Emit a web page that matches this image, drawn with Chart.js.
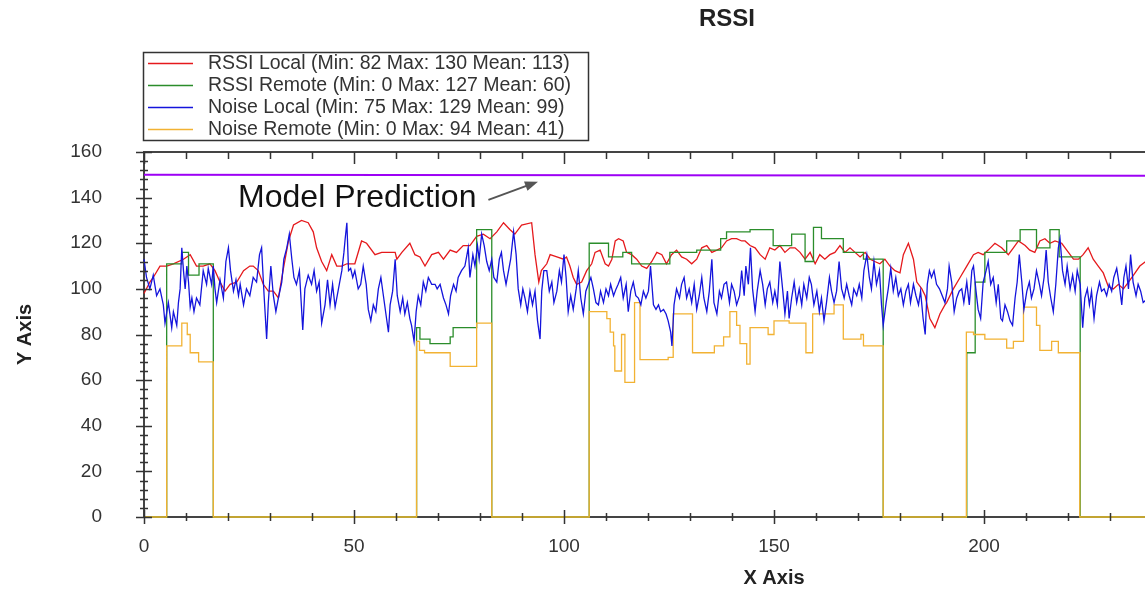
<!DOCTYPE html>
<html><head><meta charset="utf-8">
<script src="https://cdn.jsdelivr.net/npm/chart.js@4.4.1/dist/chart.umd.min.js"></script>
<style>
html,body{margin:0;padding:0;overflow:hidden;background:#fff;width:1145px;height:593px}
#wrap{position:absolute;left:0;top:0;width:1450px;height:593px}
</style>
</head><body><div id="wrap"><canvas id="c" width="1450" height="593"></canvas></div>
<script>
const chartTitle = 'RSSI';
const xTicks = [0, 50, 100, 150, 200, 250, 300];
const yTicks = [0, 20, 40, 60, 80, 100, 120, 140, 160];
const seriesLabels = [
  'RSSI Local (Min: 82 Max: 130 Mean: 113)',
  'RSSI Remote (Min: 0 Max: 127 Mean: 60)',
  'Noise Local (Min: 75 Max: 129 Mean: 99)',
  'Noise Remote (Min: 0 Max: 94 Mean: 41)'
];
const rssiLocal = [[0,98],[1.4,103],[2.2,105],[3.8,110],[5.4,110],[7,111],[9.4,113],[11,115],[12.5,110],[14.1,110],[15.7,111],[16.9,108],[18.1,103],[19.3,99],[20.5,102],[22.1,103],[23.7,108],[25.2,110],[26,110],[27.2,108],[28.4,102],[29.6,99],[30.8,99],[32,96],[33.2,109],[34.4,121],[35.6,128],[37.5,130],[39.1,129],[40.3,125],[41.1,118],[42.3,112],[43.5,108],[44.7,115],[45.9,110],[47.1,110],[48.3,111],[50.2,111],[51.8,121],[53,120],[55,115],[56.6,116],[59.8,116],[60.2,113],[61.4,116],[63.3,120],[64.5,115],[65.7,114],[66.9,110],[68.5,115],[70.1,116],[71.3,113],[72.9,117],[74.4,116],[76,119],[77.6,119],[79.2,123],[80.8,124],[82.4,122],[84,125],[85.6,129],[87.1,126],[88.3,124],[89.9,128],[92.3,129],[93.1,115],[94,103],[94.6,108],[95.9,111],[96.7,115],[98.3,114],[99.9,113],[100.6,114],[101.4,110],[102.2,105],[103,102],[104.2,103],[105.4,108],[106.6,111],[107.4,116],[108.6,117],[109.8,111],[110.6,110],[111.4,113],[112.2,121],[113,122],[114.1,121],[114.9,116],[116.1,115],[117.3,113],[118.5,110],[119.7,109],[120.9,112],[122.1,116],[123.3,115],[124.4,111],[125.6,115],[126.8,117],[128,114],[129.2,113],[130.4,111],[131.6,113],[132.8,118],[134,119],[135.2,116],[136.4,117],[137.5,118],[138.7,121],[139.9,122],[141.1,122],[142.3,121],[143.1,121],[144.3,119],[145.5,118],[146.7,115],[147.9,113],[149,118],[150.2,117],[151.4,119],[152.6,116],[153.8,118],[155,118],[156.2,116],[157.4,113],[158.6,116],[159.8,111],[160.9,115],[162.1,113],[163.3,115],[164.5,116],[165.7,119],[166.9,116],[168.1,118],[169.3,116],[170.5,114],[171.7,116],[172.9,113],[174,112],[175.2,111],[176.4,113],[177.6,110],[178.8,108],[180,107],[180.8,115],[182,120],[183.2,113],[184,103],[185.2,100],[186,97],[187.1,87],[188.3,83],[189.5,89],[190.7,93],[191.1,94],[192.7,100],[194.3,105],[195.9,110],[197.5,115],[198.6,116],[199.8,115],[201,117],[202.6,120],[204.2,118],[205.8,115],[207,118],[208.2,121],[209.8,119],[210.9,117],[212.1,116],[213.3,121],[214.5,122],[215.7,120],[216.9,121],[218.5,120],[219.7,117],[221.3,113],[222.5,113],[223.6,115],[224.8,118],[226,113],[227.2,110],[228.4,107],[229.6,101],[230.8,100],[232,102],[233.2,100],[234.4,103],[235.6,106],[237.1,110],[238.5,112]];
const rssiRemote = [[0,0],[5.4,111],[9,116],[10.6,106],[13.1,111],[16.5,0],[64.9,83],[65.7,78],[68.1,76],[72.9,79],[73.6,83],[79.2,126],[82.8,0],[106,120],[110.6,114],[114,116],[116.1,111],[125.2,116],[131.6,117],[137.3,122],[138.7,125],[141.9,125],[144.3,126],[149.8,119],[154.2,124],[157.4,112],[159.4,127],[161.3,122],[166.5,116],[171.3,113],[176,0],[195.9,72],[197.9,103],[200.2,116],[205.4,121],[208.6,126],[212.5,118],[215.7,126],[217.9,114],[222.9,0],[238.5,0]];
const noiseLocal = [[0,113],[0.6,105],[1.4,100],[2.2,106],[3,97],[3.8,100],[4.6,93],[5,85],[5.8,94],[6.6,83],[7,90],[7.8,84],[8.2,94],[8.6,100],[9,118],[9.4,108],[9.8,100],[10.2,110],[10.6,103],[11,92],[11.4,96],[11.9,90],[12.5,96],[13.3,93],[14.1,108],[14.9,102],[15.3,109],[16.1,102],[16.5,110],[16.9,100],[17.3,94],[18.1,104],[18.9,96],[19.5,112],[20.1,118],[20.6,108],[21.3,99],[21.9,104],[22.5,97],[22.9,102],[23.7,93],[24.4,100],[25.2,97],[26,105],[26.8,103],[27.5,115],[28,118],[28.6,97],[29.2,78],[29.6,94],[30.2,110],[30.8,97],[31.4,90],[32,96],[32.8,103],[33.3,113],[34,118],[34.6,124],[35.2,113],[35.7,105],[36.3,102],[37,108],[37.8,82],[38.3,100],[39.1,106],[39.9,102],[40.5,108],[41.1,99],[41.7,103],[42.3,85],[43.1,93],[43.7,104],[44.3,93],[44.9,102],[45.5,92],[46.3,100],[47.1,108],[47.6,116],[47.9,122],[48.3,129],[48.7,108],[49.2,109],[49.7,105],[50.2,108],[51,100],[51.6,102],[52.2,110],[52.9,102],[53.4,91],[54,86],[54.6,93],[55.2,90],[55.8,100],[56.4,105],[57,97],[57.6,89],[58.2,81],[58.6,93],[59.2,99],[59.8,113],[60.3,97],[61,90],[61.6,96],[62.1,89],[62.7,94],[63.3,87],[63.7,84],[64.3,77],[64.8,90],[65.3,97],[65.9,93],[66.5,103],[67.1,99],[67.7,105],[68.5,102],[69.3,102],[69.8,100],[70.5,102],[71.3,96],[71.9,93],[72.5,89],[73,97],[73.7,102],[74.3,99],[74.8,105],[75.6,108],[76.4,110],[77.2,118],[77.6,105],[78.3,115],[78.8,110],[79.4,119],[79.8,113],[80.4,124],[81,119],[81.6,112],[82.2,108],[82.8,113],[83.3,105],[84,103],[84.6,113],[85.1,116],[85.6,108],[86.2,102],[86.8,108],[87.3,113],[88,125],[88.6,115],[89.1,100],[89.7,93],[90.2,100],[90.7,96],[91.3,90],[91.9,99],[92.5,93],[93.1,99],[93.7,86],[94.3,78],[94.7,99],[95.2,108],[95.9,108],[96.5,99],[97.1,103],[97.6,94],[98.3,99],[98.9,108],[99.4,103],[100,115],[100.5,105],[101,90],[101.6,97],[102.2,91],[102.9,100],[103.4,108],[104,96],[104.6,89],[105.2,99],[105.8,102],[106.4,105],[107,100],[107.6,94],[108.2,93],[108.7,99],[109.4,94],[110,100],[110.6,97],[111.1,102],[111.8,97],[112.4,100],[112.9,102],[113.5,105],[114.1,96],[114.8,102],[115.3,90],[115.9,99],[116.5,103],[117.1,97],[117.7,96],[118.3,93],[118.9,99],[119.5,96],[120.1,99],[120.6,110],[121.3,93],[121.9,91],[122.5,93],[123,90],[123.7,91],[124.3,89],[124.8,86],[125.4,81],[125.7,75],[126.2,93],[126.8,100],[127.5,96],[128,102],[128.6,105],[129.2,96],[129.8,100],[130.4,94],[131,102],[131.6,91],[132.2,97],[132.8,105],[133.3,96],[134,90],[134.6,99],[135.2,113],[135.7,94],[136.4,89],[137,99],[137.5,96],[138.1,102],[138.7,103],[139.4,94],[139.9,102],[140.5,99],[141.1,93],[141.8,97],[142.3,108],[142.9,97],[143.3,110],[143.9,102],[144.4,118],[144.9,100],[145.5,90],[146,99],[146.7,108],[147.3,102],[147.9,93],[148.4,100],[149,103],[149.7,94],[150.2,99],[150.8,93],[151.4,112],[152.1,99],[152.6,89],[153.2,99],[153.6,87],[154.2,96],[154.8,103],[155.4,94],[156,100],[156.6,93],[157.1,102],[157.8,96],[158.4,105],[158.9,102],[159.5,93],[160.2,99],[160.8,90],[161.3,96],[161.9,86],[162.5,94],[163.2,105],[163.7,99],[164.3,94],[164.9,99],[165.5,112],[166.1,100],[166.7,96],[167.3,102],[167.9,97],[168.5,93],[169,100],[169.7,97],[170.3,102],[170.9,96],[171.4,108],[172.1,115],[172.7,105],[173.2,100],[173.8,112],[174.4,102],[175.1,108],[175.6,93],[176,84],[176.7,94],[177.2,100],[177.8,109],[178.4,99],[179,105],[179.6,97],[180.2,100],[180.8,93],[181.4,99],[182,102],[182.5,94],[183.2,102],[183.8,97],[184.4,93],[184.9,99],[185.5,87],[186,80],[186.5,102],[187,108],[187.5,105],[188.1,108],[188.7,102],[189.4,100],[190.7,94],[191.3,100],[191.7,110],[192.3,103],[192.9,90],[193.5,96],[194.1,99],[194.7,100],[195.2,94],[195.9,103],[196.5,93],[197.1,108],[197.5,110],[198.1,99],[198.6,91],[199.2,87],[199.8,103],[200.5,108],[201,112],[201.6,102],[202.2,105],[202.9,94],[203.4,102],[204,87],[204.4,86],[205,93],[205.6,90],[206.2,86],[206.8,84],[207.4,96],[207.9,103],[208.4,115],[209,103],[209.5,91],[210.2,99],[210.8,103],[211.3,96],[211.9,100],[212.5,108],[213.2,102],[213.7,97],[214.3,105],[214.8,117],[215.3,103],[215.9,96],[216.5,90],[217.1,102],[217.7,118],[218.1,122],[218.7,108],[219.3,102],[219.8,110],[220.5,100],[221.1,106],[221.7,99],[222.2,108],[222.9,102],[223.5,83],[224,96],[224.6,100],[225.1,93],[225.6,99],[226.2,87],[226.8,97],[227.5,103],[228,99],[228.6,100],[229.2,97],[229.8,102],[230.4,99],[230.9,105],[231.6,109],[232.2,102],[232.8,93],[233.3,105],[233.8,110],[234.4,100],[234.9,115],[235.5,103],[236.2,97],[236.7,102],[237.3,99],[237.9,94],[238.5,95]];
const noiseRemote = [[0,0],[5.4,75],[9,85],[10.3,80],[11,72],[13,68],[16.5,0],[64.9,77],[65.6,73],[66.8,72],[72.9,66],[79.2,85],[82.8,0],[106,90],[110.2,87],[111,81],[111.8,75],[112.1,64],[113.7,80],[114.5,59],[116.8,94],[118.1,69],[124.8,70],[126,89],[130.6,72],[135.8,75],[138,79],[139.5,90],[141.1,84],[141.9,76],[143.5,67],[144.3,83],[148.6,80],[150,86],[153.6,85],[157.6,72],[159.2,89],[164.3,93],[166.5,78],[170.7,80],[171.3,75],[176,0],[195.8,81],[197.5,80],[200.2,78],[205.4,74],[207,77],[209.4,92],[212.5,84],[213.3,73],[216.1,77],[217.7,72],[222.8,0],[238.5,0]];
const modelPrediction = [[0,150],[300,149.5]];
const annotationText = 'Model Prediction';

const FONT = "'Liberation Sans', Arial, Helvetica, sans-serif";
const colors = ['#e5191c', '#2b8d2b', '#1414dc', '#f2b233', '#9d00f5'];
const toXY = arr => arr.map(p => ({x: p[0], y: p[1]}));

const decor = {
  id: 'decor',
  afterDraw(chart) {
    const ctx = chart.ctx, a = chart.chartArea;
    const xs = chart.scales.x, ys = chart.scales.y;
    ctx.save();
    ctx.strokeStyle = '#444'; ctx.lineWidth = 2;
    ctx.beginPath();
    ctx.moveTo(a.left, a.top); ctx.lineTo(a.right, a.top); ctx.lineTo(a.right, a.bottom);
    ctx.stroke();
    ctx.lineWidth = 1.5; ctx.strokeStyle = '#333';
    ctx.beginPath();
    for (let v = ys.min; v <= ys.max; v += 4) {
      const y = Math.round(ys.getPixelForValue(v)) + 0.5;
      const h = yTicks.includes(v) ? 8 : 4;
      ctx.moveTo(a.left - h, y); ctx.lineTo(a.left + h, y);
    }
    for (let v = xs.min; v <= xs.max; v += 10) {
      const x = Math.round(xs.getPixelForValue(v)) + 0.5;
      const major = xTicks.includes(v);
      const h = major ? 7 : 4;
      ctx.moveTo(x, a.bottom - h); ctx.lineTo(x, a.bottom + h);
      ctx.moveTo(x, a.top); ctx.lineTo(x, a.top + (major ? 12 : 7));
    }
    ctx.stroke();

    ctx.strokeStyle = '#333'; ctx.lineWidth = 1.5;
    ctx.strokeRect(143.5, 52.5, 445, 88);
    ctx.font = '19.5px ' + FONT; ctx.textBaseline = 'middle'; ctx.textAlign = 'left';
    const rows = [63, 85, 107, 129];
    seriesLabels.forEach((t, i) => {
      ctx.strokeStyle = colors[i]; ctx.lineWidth = 1.5;
      ctx.beginPath(); ctx.moveTo(148, rows[i] + 0.5); ctx.lineTo(193, rows[i] + 0.5); ctx.stroke();
      ctx.fillStyle = '#333';
      ctx.fillText(t, 208, rows[i] + 1);
    });

    ctx.font = 'bold 24px ' + FONT; ctx.fillStyle = '#222'; ctx.textAlign = 'center';
    ctx.fillText(chartTitle, 727, 19);

    ctx.font = '32px ' + FONT; ctx.fillStyle = '#111'; ctx.textAlign = 'left'; ctx.textBaseline = 'alphabetic';
    ctx.fillText(annotationText, xs.getPixelForValue(22.4), ys.getPixelForValue(135.9));
    const x1 = xs.getPixelForValue(82), y1 = ys.getPixelForValue(139);
    const x2 = xs.getPixelForValue(93.8), y2 = ys.getPixelForValue(147);
    const ang = Math.atan2(y2 - y1, x2 - x1);
    ctx.strokeStyle = '#555'; ctx.fillStyle = '#555'; ctx.lineWidth = 2;
    ctx.beginPath(); ctx.moveTo(x1, y1); ctx.lineTo(x2 - 8 * Math.cos(ang), y2 - 8 * Math.sin(ang)); ctx.stroke();
    ctx.beginPath();
    ctx.moveTo(x2, y2);
    ctx.lineTo(x2 - 13 * Math.cos(ang) + 5 * Math.sin(ang), y2 - 13 * Math.sin(ang) - 5 * Math.cos(ang));
    ctx.lineTo(x2 - 13 * Math.cos(ang) - 5 * Math.sin(ang), y2 - 13 * Math.sin(ang) + 5 * Math.cos(ang));
    ctx.closePath(); ctx.fill();
    ctx.restore();
  }
};

const ds = (label, data, color, order, extra) => Object.assign({
  label, data: toXY(data), borderColor: color, backgroundColor: color,
  borderWidth: 1.3, pointRadius: 0, fill: false, tension: 0, clip: false, order
}, extra || {});

new Chart(document.getElementById('c'), {
  type: 'line',
  data: {
    datasets: [
      ds(seriesLabels[0], rssiLocal, colors[0], 3),
      ds(seriesLabels[1], rssiRemote, colors[1], 2, {stepped: true}),
      ds(seriesLabels[2], noiseLocal, colors[2], 0),
      ds(seriesLabels[3], noiseRemote, colors[3], 1, {stepped: true}),
      ds('Model Prediction', modelPrediction, colors[4], 4, {borderWidth: 2})
    ]
  },
  options: {
    responsive: false, animation: false, devicePixelRatio: 1,
    layout: {padding: {top: 152, right: 46, left: 0, bottom: 0}},
    plugins: {legend: {display: false}, tooltip: {enabled: false}, title: {display: false}},
    scales: {
      x: {
        type: 'linear', min: 0, max: 300,
        afterBuildTicks: s => { s.ticks = xTicks.map(v => ({value: v})); },
        afterFit: s => { s.height = 76; },
        grid: {drawOnChartArea: false, drawTicks: false},
        border: {display: true, color: '#444', width: 2},
        ticks: {padding: 18, autoSkip: false, maxRotation: 0, color: '#333', font: {family: FONT, size: 19}},
        title: {display: true, text: 'X Axis', color: '#222', font: {family: FONT, size: 20, weight: 'bold'}, padding: {top: 0, bottom: 3}}
      },
      y: {
        type: 'linear', min: 0, max: 160,
        afterBuildTicks: s => { s.ticks = yTicks.map(v => ({value: v})); },
        afterFit: s => { s.width = 144; },
        grid: {drawOnChartArea: false, drawTicks: false},
        border: {display: true, color: '#444', width: 2},
        ticks: {padding: 42, color: '#333', font: {family: FONT, size: 19}},
        title: {display: true, text: 'Y Axis', color: '#222', font: {family: FONT, size: 20, weight: 'bold'}, padding: {top: 13, bottom: 0}}
      }
    }
  },
  plugins: [decor]
});
</script>
</body></html>
